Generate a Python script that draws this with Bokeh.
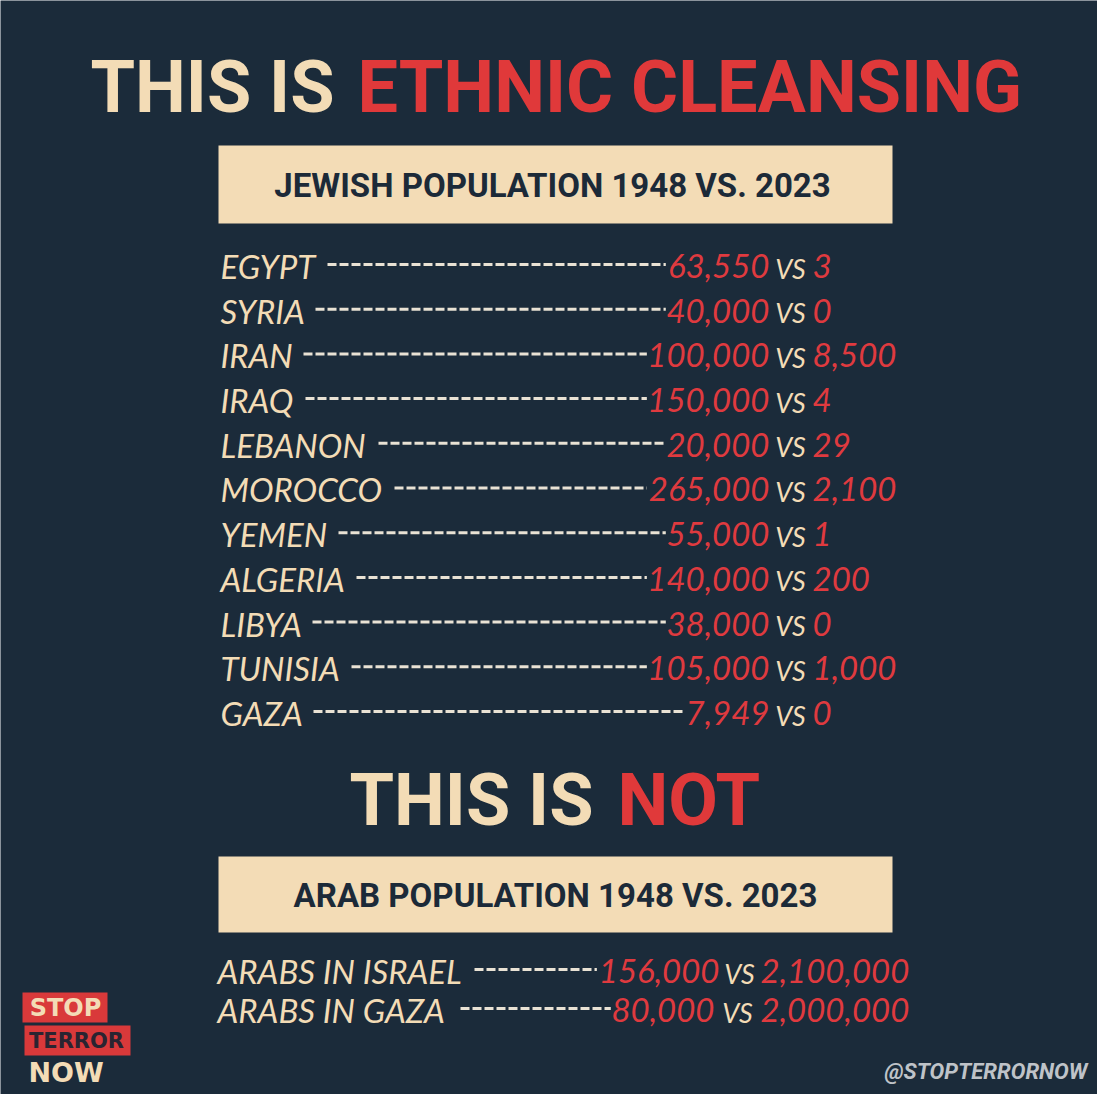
from bokeh.plotting import figure
from bokeh.models import Range1d, ColumnDataSource
from bokeh.core.properties import value
from bokeh.embed import file_html
from bokeh.resources import INLINE

# ---------------- data ----------------
title_lead = "THIS IS"
title_accent = "ETHNIC CLEANSING"
second_accent = "NOT"
jewish_header = "JEWISH POPULATION 1948 VS. 2023"
arab_header = "ARAB POPULATION 1948 VS. 2023"

countries = ["EGYPT", "SYRIA", "IRAN", "IRAQ", "LEBANON", "MOROCCO",
             "YEMEN", "ALGERIA", "LIBYA", "TUNISIA", "GAZA"]
jewish_1948 = [63550, 40000, 100000, 150000, 20000, 265000,
               55000, 140000, 38000, 105000, 7949]
jewish_2023 = [3, 0, 8500, 4, 29, 2100, 1, 200, 0, 1000, 0]

arab_groups = ["ARABS IN ISRAEL", "ARABS IN GAZA"]
arab_1948 = [156000, 80000]
arab_2023 = [2100000, 2000000]

brand_lines = ["STOP", "TERROR", "NOW"]
handle = "@STOPTERRORNOW"

# ---------------- styles / layout ----------------
BG = "#1b2b3a"
CREAM = "#f3dcb6"
RED = "#e0393a"
NUMRED = "#df3a3f"
NAVY = "#1c2a38"
DASH = "#e9e2d4"
BOLD_FONT = value("Roboto, 'Liberation Sans', sans-serif")
ROW_FONT = value("Lato, Roboto, sans-serif")
LOGO_FONT = value("'DejaVu Sans', sans-serif")

ROW_PX = 33
VS_PX = 27
SHIFT = 0.35  # renderer places alphabetic text ~0.35em low; compensate
DIGIT_EM = 0.574
COMMA_PX = 5


def by(baseline, px):
    return baseline - SHIFT * px


def num_width(s, px):
    return sum(COMMA_PX if ch == "," else DIGIT_EM * px for ch in s)


# row geometry (reference pixel space)
row_first_baseline = 285
row_pitch = 44.7
name_x = 228
num1_right = 777
vs_center = 798
num2_left = 820
dash_start = [335, 323, 311, 313, 386, 402, 346, 364, 320, 359, 321]

arab_baselines = [990, 1029]
arab_name_x = 225
arab_num1_right = [727, 722]
arab_vs_center = [747, 745]
arab_num2_left = 768
arab_dash_start = [482, 468]

p = figure(width=1097, height=1094, x_range=Range1d(8, 1105), y_range=Range1d(1102, 8),
           output_backend="svg", toolbar_location=None, min_border=0,
           background_fill_color=BG, border_fill_color=BG, outline_line_color=None)
p.xaxis.visible = False
p.yaxis.visible = False
p.xgrid.visible = False
p.ygrid.visible = False


def fmt(v):
    return f"{v:,}"


def txt(x, baseline, t, px, color, align="left", style="bold", font=BOLD_FONT):
    p.text(x=[x], y=[by(baseline, px)], text=[t], text_font=font, text_font_size=f"{px}px",
           text_font_style=style, text_color=color, text_align=align,
           text_baseline="alphabetic")


# ---- title ----
txt(342, 120, title_lead, 72, CREAM, "right")
txt(365, 120, title_accent, 72, RED, "left")

# ---- header box 1 ----
p.quad(left=[226], right=[900], top=[153], bottom=[231], fill_color=CREAM, line_color=None)
txt(560, 205, jewish_header, 33, NAVY, "center")


def rows(names, a_vals, b_vals, baselines, xn, xa, xv, xb, x0):
    k = len(names)
    a_txt = [fmt(v) for v in a_vals]
    x1 = [r - num_width(s, ROW_PX) - 4 for r, s in zip(xa, a_txt)]
    src = ColumnDataSource(dict(
        name=names,
        a=a_txt,
        b=[fmt(v) for v in b_vals],
        vs=["VS"] * k,
        y=[by(b, ROW_PX) for b in baselines],
        yv=[by(b, VS_PX) for b in baselines],
        dy=[b - 13 for b in baselines],
        x0=x0, x1=x1, xn=xn, xa=xa, xv=xv, xb=xb,
    ))
    p.segment(x0="x0", x1="x1", y0="dy", y1="dy", source=src, line_color=DASH,
              line_width=3, line_dash="9 3")
    common = dict(source=src, text_font=ROW_FONT, text_font_style="italic",
                  text_baseline="alphabetic")
    p.text(x="xn", y="y", text="name", text_font_size=f"{ROW_PX}px", text_color=CREAM,
           text_align="left", **common)
    p.text(x="xa", y="y", text="a", text_font_size=f"{ROW_PX}px", text_color=NUMRED,
           text_align="right", **common)
    p.text(x="xv", y="yv", text="vs", text_font_size=f"{VS_PX}px", text_color=CREAM,
           text_align="center", **common)
    p.text(x="xb", y="y", text="b", text_font_size=f"{ROW_PX}px", text_color=NUMRED,
           text_align="left", **common)


n = len(countries)
rows(countries, jewish_1948, jewish_2023,
     [row_first_baseline + i * row_pitch for i in range(n)],
     [name_x] * n, [num1_right] * n, [vs_center] * n, [num2_left] * n,
     dash_start)

# ---- second title ----
txt(601, 833, title_lead, 72, CREAM, "right")
txt(625, 833, second_accent, 72, RED, "left")

# ---- header box 2 ----
p.quad(left=[226], right=[900], top=[864], bottom=[940], fill_color=CREAM, line_color=None)
txt(563, 915, arab_header, 33, NAVY, "center")

# ---- arab rows ----
m = len(arab_groups)
rows(arab_groups, arab_1948, arab_2023, arab_baselines,
     [arab_name_x] * m, arab_num1_right, arab_vs_center, [arab_num2_left] * m,
     arab_dash_start)

# ---- logo ----
p.quad(left=[30, 32], right=[115, 138], top=[1000, 1033], bottom=[1030, 1063],
       fill_color="#d9393a", line_color=None)
txt(73, 1024, brand_lines[0], 24, CREAM, "center", font=LOGO_FONT)
txt(84, 1056, brand_lines[1], 21, "#2a2431", "center", font=LOGO_FONT)
txt(36, 1089, brand_lines[2], 27, CREAM, "left", font=LOGO_FONT)

# ---- handle ----
txt(1095, 1087, handle, 22, "#bfc3c8", "right", style="bold italic")

open("out.html", "w").write(file_html(p, INLINE))
